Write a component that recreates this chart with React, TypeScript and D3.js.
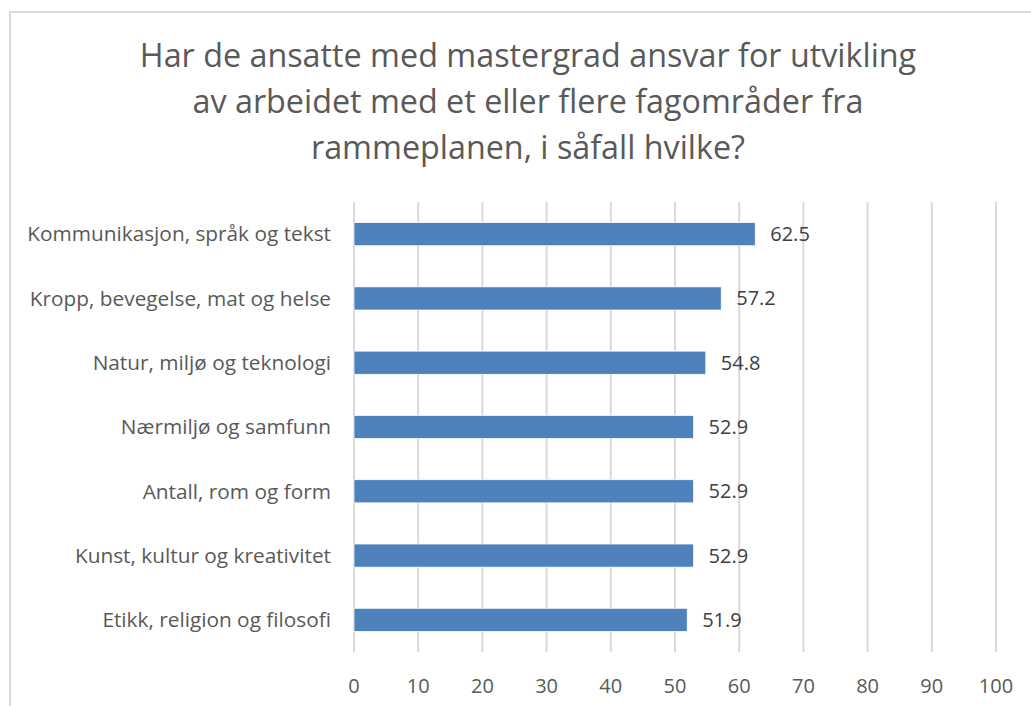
// @ts-nocheck
import { useRef, useEffect } from "react";
import * as d3 from "d3";

const categories = [
  "Kommunikasjon, språk og tekst",
  "Kropp, bevegelse, mat og helse",
  "Natur, miljø og teknologi",
  "Nærmiljø og samfunn",
  "Antall, rom og form",
  "Kunst, kultur og kreativitet",
  "Etikk, religion og filosofi",
];
const values = [62.5, 57.2, 54.8, 52.9, 52.9, 52.9, 51.9];
const xTicks = [0, 10, 20, 30, 40, 50, 60, 70, 80, 90, 100];
const titleLines = [
  "Har de ansatte med mastergrad ansvar for utvikling",
  "av arbeidet med et eller flere fagområder fra",
  "rammeplanen, i såfall hvilke?",
];

const W = 1031;
const H = 706;
const FONT = "'Open Sans', sans-serif";
const TEXT = "#595959";

export default function App() {
  const ref = useRef(null);

  useEffect(() => {
    const svg = d3.select(ref.current);
    svg.selectAll("*").remove();

    // chart area border
    svg
      .append("rect")
      .attr("x", 10)
      .attr("y", 12)
      .attr("width", W)
      .attr("height", H)
      .attr("fill", "#fff")
      .attr("stroke", "#d9d9d9")
      .attr("stroke-width", 2);

    svg
      .append("g")
      .selectAll("text")
      .data(titleLines)
      .join("text")
      .attr("x", 528)
      .attr("y", (d, i) => 67 + i * 46)
      .attr("text-anchor", "middle")
      .attr("font-family", FONT)
      .attr("font-size", 32.3)
      .attr("fill", TEXT)
      .text((d) => d);

    const x = d3.scaleLinear().domain([0, 100]).range([354, 996]);
    const y = d3.scaleBand().domain(categories).range([202, 652]).paddingInner(0.64).paddingOuter(0.32);

    // gridlines
    svg
      .append("g")
      .selectAll("line")
      .data(xTicks)
      .join("line")
      .attr("x1", (d) => x(d))
      .attr("x2", (d) => x(d))
      .attr("y1", 202)
      .attr("y2", 652)
      .attr("stroke", "#d9d9d9")
      .attr("stroke-width", 2);

    // tick labels
    svg
      .append("g")
      .selectAll("text")
      .data(xTicks)
      .join("text")
      .attr("x", (d) => x(d))
      .attr("y", 693)
      .attr("text-anchor", "middle")
      .attr("font-family", FONT)
      .attr("font-size", 20)
      .attr("fill", TEXT)
      .text((d) => d);

    // bars
    svg
      .append("g")
      .selectAll("rect")
      .data(values)
      .join("rect")
      .attr("x", x(0))
      .attr("y", (d, i) => y(categories[i]))
      .attr("width", (d) => x(d) - x(0))
      .attr("height", y.bandwidth())
      .attr("fill", "#4f81bd")
      .attr("stroke", "#fff")
      .attr("stroke-width", 0.75);

    // value labels
    svg
      .append("g")
      .selectAll("text")
      .data(values)
      .join("text")
      .attr("x", (d) => x(d) + 15)
      .attr("y", (d, i) => y(categories[i]) + y.bandwidth() / 2)
      .attr("dy", "0.35em")
      .attr("font-family", FONT)
      .attr("font-size", 20)
      .attr("fill", "#404040")
      .text((d) => d.toFixed(1));

    // category labels
    svg
      .append("g")
      .selectAll("text")
      .data(categories)
      .join("text")
      .attr("x", 331)
      .attr("y", (d) => y(d) + y.bandwidth() / 2)
      .attr("dy", "0.35em")
      .attr("text-anchor", "end")
      .attr("font-family", FONT)
      .attr("font-size", 20.8)
      .attr("fill", TEXT)
      .text((d) => d);
  }, []);

  return (
    <svg
      ref={ref}
      width={W}
      height={H}
      style={{ position: "absolute", left: 0, top: 0, display: "block" }}
    ></svg>
  );
}
